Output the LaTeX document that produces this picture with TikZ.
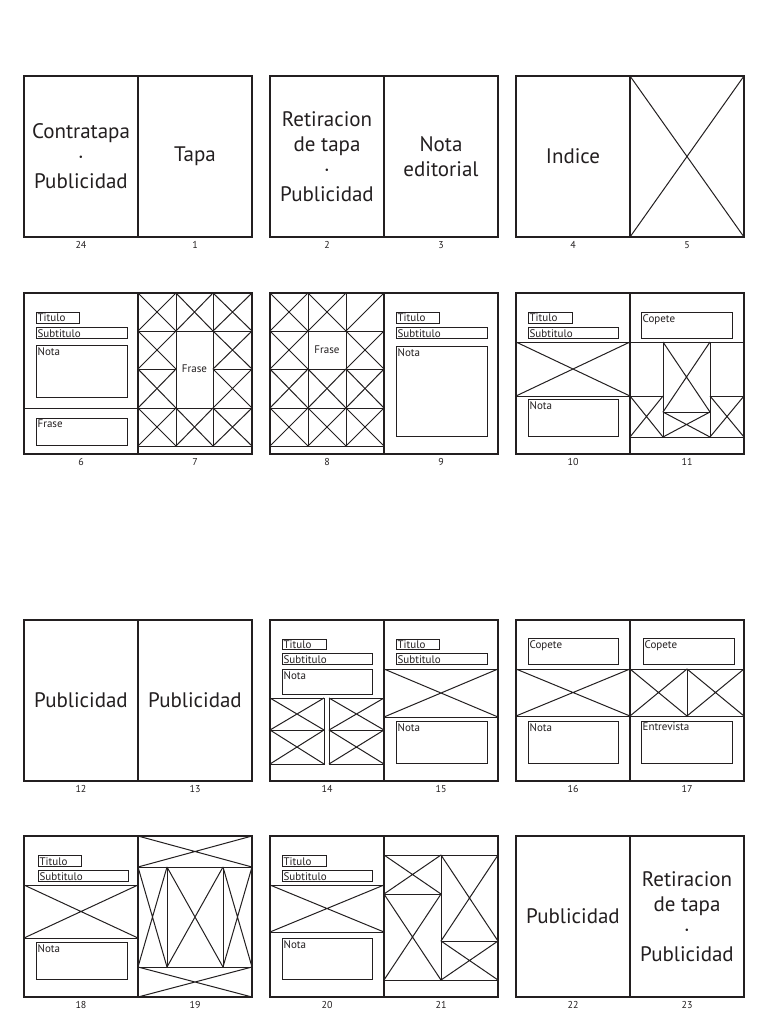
\documentclass[tikz,border=0pt]{standalone}
\usepackage{fontspec}
\setmainfont{PT Sans}
\definecolor{InkColor}{RGB}{35,31,32}

\begin{document}
\begin{tikzpicture}[x=0.5pt, y=-0.5pt, InkColor,
    pageframe/.style={line width=1pt},
    part/.style={line width=0.5pt},
    bigtext/.style={align=center, font=\fontsize{10.5}{12.5}\selectfont},
    boxtext/.style={anchor=north west, inner xsep=0.6pt, inner ysep=0.9pt, font=\fontsize{5.5}{6.5}\selectfont},
    celltext/.style={font=\fontsize{5.5}{6.5}\selectfont},
    pagenum/.style={font=\fontsize{5}{6}\selectfont}]
  \useasboundingbox[fill=white] (0,0) rectangle (768,1024);

  % 24 - 1
  \begin{scope}[shift={(24,76)}]
    \draw[pageframe] (0,0) rectangle (228,161) (114,0) -- (114,161);
    \node[bigtext] (contratapa) at (57,80.5) {Contratapa\\·\\Publicidad};
    \node[bigtext] (tapa) at (171,80.5) {Tapa};
    \node[pagenum] (p24) at (57,169) {24};
    \node[pagenum] (p1) at (171,169) {1};
  \end{scope}

  % 2 - 3
  \begin{scope}[shift={(270,76)}]
    \draw[pageframe] (0,0) rectangle (228,161) (114,0) -- (114,161);
    \node[bigtext] (retiracion2) at (57,80.5) {Retiracion\\de tapa\\·\\Publicidad};
    \node[bigtext] (editorial) at (171,80.5) {Nota\\editorial};
    \node[pagenum] (p2) at (57,169) {2};
    \node[pagenum] (p3) at (171,169) {3};
  \end{scope}

  % 4 - 5
  \begin{scope}[shift={(516,76)}]
    \draw[part] (114,0) -- (228,161) (114,161) -- (228,0);
    \draw[pageframe] (0,0) rectangle (228,161) (114,0) -- (114,161);
    \node[bigtext] (indice) at (57,80.5) {Indice};
    \node[pagenum] (p4) at (57,169) {4};
    \node[pagenum] (p5) at (171,169) {5};
  \end{scope}

  % 6 - 7
  \begin{scope}[shift={(24,293)}]
    \draw[part] (12,19) rectangle (55,30);
    \draw[part] (12,34) rectangle (103,45);
    \draw[part] (12,52) rectangle (103,104);
    \draw[part] (0,115) -- (114,115);
    \draw[part] (12,125) rectangle (103,152);
    \node[boxtext] (titulo6) at (12,19) {Titulo};
    \node[boxtext] (sub6) at (12,34) {Subtitulo};
    \node[boxtext] (nota6) at (12,52) {Nota};
    \node[boxtext] (frase6) at (12,125) {Frase};
    % grilla de fotos
    \draw[part] (114,38) -- (228,38) (114,115) -- (228,115) (114,153) -- (228,153);
    \draw[part] (114,76) -- (152,76) (189,76) -- (228,76);
    \draw[part] (152,0) -- (152,153) (189,0) -- (189,153);
    \draw[part] (114,0) -- (152,38) (114,38) -- (152,0);
    \draw[part] (114,38) -- (152,76) (114,76) -- (152,38);
    \draw[part] (114,76) -- (152,115) (114,115) -- (152,76);
    \draw[part] (114,115) -- (152,153) (114,153) -- (152,115);
    \draw[part] (152,0) -- (189,38) (152,38) -- (189,0);
    \draw[part] (152,115) -- (189,153) (152,153) -- (189,115);
    \draw[part] (189,0) -- (228,38) (189,38) -- (228,0);
    \draw[part] (189,38) -- (228,76) (189,76) -- (228,38);
    \draw[part] (189,76) -- (228,115) (189,115) -- (228,76);
    \draw[part] (189,115) -- (228,153) (189,153) -- (228,115);
    \node[celltext] (frase7) at (170.5,76) {Frase};
    \draw[pageframe] (0,0) rectangle (228,161) (114,0) -- (114,161);
    \node[pagenum] (p6) at (57,169) {6};
    \node[pagenum] (p7) at (171,169) {7};
  \end{scope}

  % 8 - 9
  \begin{scope}[shift={(270,293)}]
    \draw[part] (0,38) -- (114,38) (0,76) -- (114,76) (0,115) -- (114,115) (0,153) -- (114,153);
    \draw[part] (38,0) -- (38,153) (76,0) -- (76,153);
    \draw[part] (0,0) -- (38,38) (0,38) -- (38,0);
    \draw[part] (38,0) -- (76,38) (38,38) -- (76,0);
    \draw[part] (76,38) -- (114,0);
    \draw[part] (0,38) -- (38,76) (0,76) -- (38,38);
    \draw[part] (76,38) -- (114,76) (76,76) -- (114,38);
    \draw[part] (0,76) -- (38,115) (0,115) -- (38,76);
    \draw[part] (38,76) -- (76,115) (38,115) -- (76,76);
    \draw[part] (76,76) -- (114,115) (76,115) -- (114,76);
    \draw[part] (0,115) -- (38,153) (0,153) -- (38,115);
    \draw[part] (38,115) -- (76,153) (38,153) -- (76,115);
    \draw[part] (76,115) -- (114,153) (76,153) -- (114,115);
    \node[celltext] (frase8) at (57,57) {Frase};
    \draw[part] (126,19) rectangle (169,30);
    \draw[part] (126,34) rectangle (217,45);
    \draw[part] (126,53) rectangle (217,143);
    \node[boxtext] (titulo9) at (126,19) {Titulo};
    \node[boxtext] (sub9) at (126,34) {Subtitulo};
    \node[boxtext] (nota9) at (126,53) {Nota};
    \draw[pageframe] (0,0) rectangle (228,161) (114,0) -- (114,161);
    \node[pagenum] (p8) at (57,169) {8};
    \node[pagenum] (p9) at (171,169) {9};
  \end{scope}

  % 10 - 11
  \begin{scope}[shift={(516,293)}]
    \draw[part] (12,19) rectangle (56,30);
    \draw[part] (12,34) rectangle (102,45);
    \node[boxtext] (titulo10) at (12,19) {Titulo};
    \node[boxtext] (sub10) at (12,34) {Subtitulo};
    \draw[part] (0,49) -- (228,49) (0,103) -- (114,103);
    \draw[part] (0,49) -- (114,103) (0,103) -- (114,49);
    \draw[part] (12,106) rectangle (102,143);
    \node[boxtext] (nota10) at (12,106) {Nota};
    \draw[part] (125,19) rectangle (216,45);
    \node[boxtext] (copete11) at (125,19) {Copete};
    \draw[part] (147,49) rectangle (194,144) (147,119) -- (194,119);
    \draw[part] (147,49) -- (194,119) (147,119) -- (194,49);
    \draw[part] (147,119) -- (194,144) (147,144) -- (194,119);
    \draw[part] (114,103) -- (147,103) (194,103) -- (228,103) (114,144) -- (228,144);
    \draw[part] (114,103) -- (147,144) (114,144) -- (147,103);
    \draw[part] (194,103) -- (228,144) (194,144) -- (228,103);
    \draw[pageframe] (0,0) rectangle (228,161) (114,0) -- (114,161);
    \node[pagenum] (p10) at (57,169) {10};
    \node[pagenum] (p11) at (171,169) {11};
  \end{scope}

  % 12 - 13
  \begin{scope}[shift={(24,620)}]
    \draw[pageframe] (0,0) rectangle (228,161) (114,0) -- (114,161);
    \node[bigtext] (publi12) at (57,80.5) {Publicidad};
    \node[bigtext] (publi13) at (171,80.5) {Publicidad};
    \node[pagenum] (p12) at (57,169) {12};
    \node[pagenum] (p13) at (171,169) {13};
  \end{scope}

  % 14 - 15
  \begin{scope}[shift={(270,620)}]
    \draw[part] (12,19) rectangle (56,29);
    \draw[part] (12,33) rectangle (102,44);
    \draw[part] (12,49) rectangle (102,74);
    \node[boxtext] (titulo14) at (12,19) {Titulo};
    \node[boxtext] (sub14) at (12,33) {Subtitulo};
    \node[boxtext] (nota14) at (12,49) {Nota};
    \draw[part] (0,78) rectangle (54,144) (0,110) -- (54,110);
    \draw[part] (59,78) rectangle (114,144) (59,110) -- (114,110);
    \draw[part] (0,78) -- (54,110) (0,110) -- (54,78);
    \draw[part] (0,110) -- (54,144) (0,144) -- (54,110);
    \draw[part] (59,78) -- (114,110) (59,110) -- (114,78);
    \draw[part] (59,110) -- (114,144) (59,144) -- (114,110);
    \draw[part] (126,19) rectangle (169,29);
    \draw[part] (126,33) rectangle (217,44);
    \node[boxtext] (titulo15) at (126,19) {Titulo};
    \node[boxtext] (sub15) at (126,33) {Subtitulo};
    \draw[part] (114,49) -- (228,49) (114,97) -- (228,97);
    \draw[part] (114,49) -- (228,97) (114,97) -- (228,49);
    \draw[part] (126,101) rectangle (217,143);
    \node[boxtext] (nota15) at (126,101) {Nota};
    \draw[pageframe] (0,0) rectangle (228,161) (114,0) -- (114,161);
    \node[pagenum] (p14) at (57,169) {14};
    \node[pagenum] (p15) at (171,169) {15};
  \end{scope}

  % 16 - 17
  \begin{scope}[shift={(516,620)}]
    \draw[part] (12,18) rectangle (102,44);
    \node[boxtext] (copete16) at (12,18) {Copete};
    \draw[part] (0,49) -- (228,49) (0,96) -- (228,96) (171,49) -- (171,96);
    \draw[part] (0,49) -- (114,96) (0,96) -- (114,49);
    \draw[part] (114,49) -- (171,96) (114,96) -- (171,49);
    \draw[part] (171,49) -- (228,96) (171,96) -- (228,49);
    \draw[part] (12,101) rectangle (102,143);
    \node[boxtext] (nota16) at (12,101) {Nota};
    \draw[part] (127,18) rectangle (218,44);
    \node[boxtext] (copete17) at (127,18) {Copete};
    \draw[part] (125,101) rectangle (216,143);
    \node[boxtext] (entrevista) at (125,101) {Entrevista};
    \draw[pageframe] (0,0) rectangle (228,161) (114,0) -- (114,161);
    \node[pagenum] (p16) at (57,169) {16};
    \node[pagenum] (p17) at (171,169) {17};
  \end{scope}

  % 18 - 19
  \begin{scope}[shift={(24,836)}]
    \draw[part] (14,19) rectangle (57,30);
    \draw[part] (14,34) rectangle (104,45);
    \node[boxtext] (titulo18) at (14,19) {Titulo};
    \node[boxtext] (sub18) at (14,34) {Subtitulo};
    \draw[part] (0,49) -- (114,49) (0,102) -- (114,102);
    \draw[part] (0,49) -- (114,102) (0,102) -- (114,49);
    \draw[part] (12,106) rectangle (103,143);
    \node[boxtext] (nota18) at (12,106) {Nota};
    \draw[part] (114,31) -- (228,31) (114,131) -- (228,131);
    \draw[part] (143,31) -- (143,131) (199,31) -- (199,131);
    \draw[part] (114,0) -- (228,31) (114,31) -- (228,0);
    \draw[part] (114,31) -- (143,131) (114,131) -- (143,31);
    \draw[part] (143,31) -- (199,131) (143,131) -- (199,31);
    \draw[part] (199,31) -- (228,131) (199,131) -- (228,31);
    \draw[part] (114,131) -- (228,161) (114,161) -- (228,131);
    \draw[pageframe] (0,0) rectangle (228,161) (114,0) -- (114,161);
    \node[pagenum] (p18) at (57,169) {18};
    \node[pagenum] (p19) at (171,169) {19};
  \end{scope}

  % 20 - 21
  \begin{scope}[shift={(270,836)}]
    \draw[part] (12,19) rectangle (56,30);
    \draw[part] (12,34) rectangle (102,45);
    \node[boxtext] (titulo20) at (12,19) {Titulo};
    \node[boxtext] (sub20) at (12,34) {Subtitulo};
    \draw[part] (0,49) -- (114,49) (0,96) -- (114,96);
    \draw[part] (0,49) -- (114,96) (0,96) -- (114,49);
    \draw[part] (12,102) rectangle (102,143);
    \node[boxtext] (nota20) at (12,102) {Nota};
    \draw[part] (114,19) -- (228,19) (114,144) -- (228,144) (171,19) -- (171,144);
    \draw[part] (114,58) -- (171,58) (171,105) -- (228,105);
    \draw[part] (114,19) -- (171,58) (114,58) -- (171,19);
    \draw[part] (114,58) -- (171,144) (114,144) -- (171,58);
    \draw[part] (171,19) -- (228,105) (171,105) -- (228,19);
    \draw[part] (171,105) -- (228,144) (171,144) -- (228,105);
    \draw[pageframe] (0,0) rectangle (228,161) (114,0) -- (114,161);
    \node[pagenum] (p20) at (57,169) {20};
    \node[pagenum] (p21) at (171,169) {21};
  \end{scope}

  % 22 - 23
  \begin{scope}[shift={(516,836)}]
    \draw[pageframe] (0,0) rectangle (228,161) (114,0) -- (114,161);
    \node[bigtext] (publi22) at (57,80.5) {Publicidad};
    \node[bigtext] (retiracion23) at (171,80.5) {Retiracion\\de tapa\\·\\Publicidad};
    \node[pagenum] (p22) at (57,169) {22};
    \node[pagenum] (p23) at (171,169) {23};
  \end{scope}
\end{tikzpicture}
\end{document}
